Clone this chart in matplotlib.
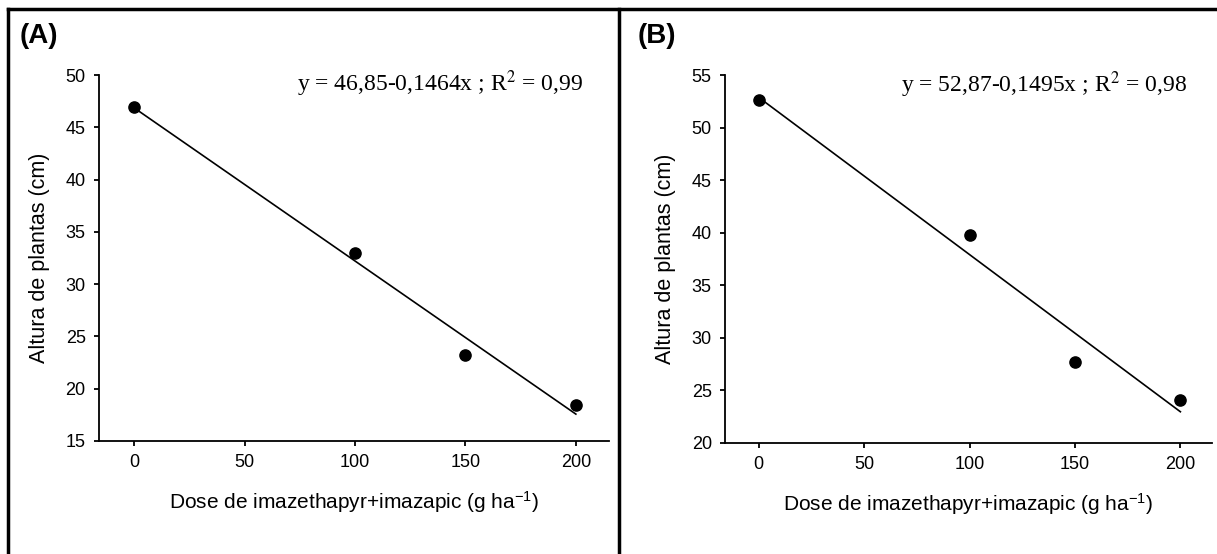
import numpy as np
import matplotlib
matplotlib.use('Agg')
import matplotlib.pyplot as plt
from matplotlib.lines import Line2D

plt.rcParams['font.family'] = 'Liberation Sans'
plt.rcParams['mathtext.fontset'] = 'custom'
plt.rcParams['mathtext.rm'] = 'Liberation Sans'
plt.rcParams['mathtext.it'] = 'Liberation Sans'

# dose (g/ha) and plant height (cm)
dose = [0, 100, 150, 200]
altura_a = [46.9, 33.0, 23.2, 18.4]
altura_b = [52.6, 39.8, 27.7, 24.1]

# regression coefficients (intercept, slope) and R2
coef_a = (46.85, -0.1464)
coef_b = (52.87, -0.1495)
r2_a = '0,99'
r2_b = '0,98'

xticks = [0, 50, 100, 150, 200]
yticks_a = [15, 20, 25, 30, 35, 40, 45, 50]
yticks_b = [20, 25, 30, 35, 40, 45, 50, 55]

fig = plt.figure(figsize=(12.17, 5.54), dpi=100)
ax1 = fig.add_axes([0.0813, 0.204, 0.4191, 0.6606])
ax2 = fig.add_axes([0.5957, 0.2004, 0.4002, 0.6642])


def coef_str(v, nd):
    return f'{v:.{nd}f}'.replace('.', ',')


def draw(ax, y, coef, r2, yticks, tag, tag_x):
    ax.scatter(dose, y, s=65, color='black', zorder=3)
    xx = np.array([dose[0], dose[-1]])
    ax.plot(xx, coef[0] + coef[1] * xx, color='black', lw=1.2)
    ax.set_xlim(-16, 215)
    ax.set_ylim(yticks[0], yticks[-1])
    ax.set_xticks(xticks)
    ax.set_yticks(yticks)
    ax.spines['top'].set_visible(False)
    ax.spines['right'].set_visible(False)
    for s in ('left', 'bottom'):
        ax.spines[s].set_linewidth(1.3)
    ax.tick_params(direction='out', length=3.5, width=1.3, labelsize=13, pad=6)
    ax.set_ylabel('Altura de plantas (cm)', fontsize=15.5, labelpad=11)
    ax.set_xlabel('Dose de imazethapyr+imazapic (g ha$^{-1}$)', fontsize=15, labelpad=13)
    eq = ('y = ' + coef_str(coef[0], 2) + '-' + coef_str(-coef[1], 4) +
          'x ; R$^2$ = ' + r2)
    ax.text(0.95, 0.975, eq, transform=ax.transAxes, ha='right', va='center',
            fontsize=17, family='Liberation Serif', math_fontfamily='stix')
    fig.text(tag_x, 0.935, tag, fontsize=20, fontweight='bold', va='center')


draw(ax1, altura_a, coef_a, r2_a, yticks_a, '(A)', 0.016)
draw(ax2, altura_b, coef_b, r2_b, yticks_b, '(B)', 0.524)

# panel frame
frame = dict(color='black', lw=2.5, transform=fig.transFigure)
fig.add_artist(Line2D([0.0066, 1.0], [0.984, 0.984], **frame))
fig.add_artist(Line2D([0.0066, 0.0066], [0.0, 0.984], **frame))
fig.add_artist(Line2D([0.5086, 0.5086], [0.0, 0.984], **frame))

fig.savefig('out.png', dpi=100)
